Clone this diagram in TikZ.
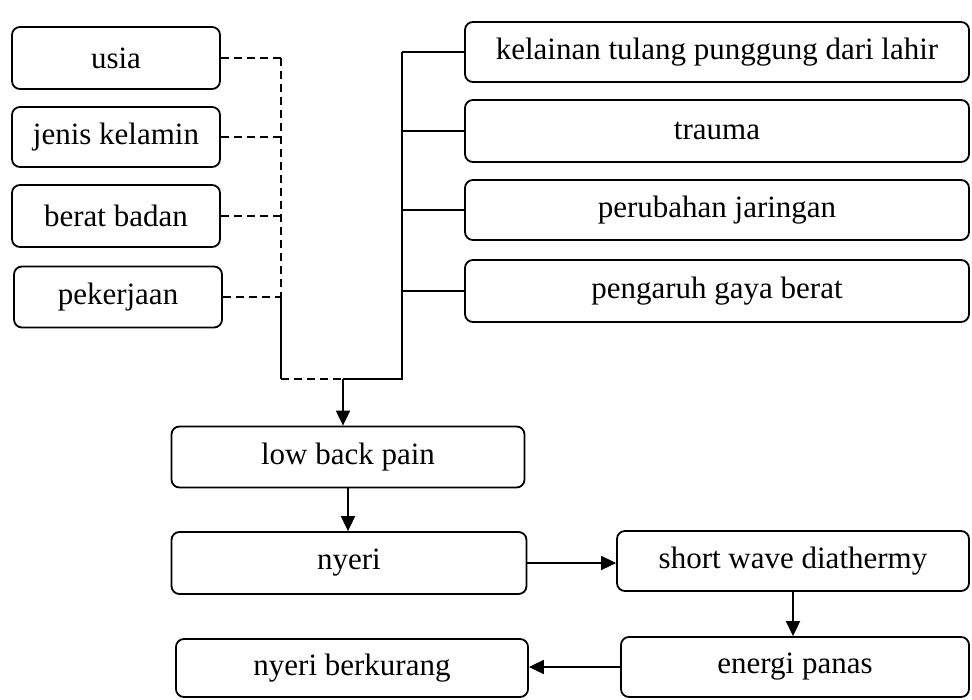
\documentclass[tikz,border=0pt]{standalone}
\usepackage{fontspec}
\setmainfont{Liberation Serif}
\usetikzlibrary{arrows.meta}
\tikzset{box/.style={draw,rounded corners=8pt,line width=1.8pt,inner sep=0pt,font=\fontsize{31}{36}\selectfont}}
\tikzset{link/.style={line width=1.8pt}}
\tikzset{faktor/.style={line width=1.8pt,dash pattern=on 8pt off 5pt}}
\tikzset{flow/.style={line width=1.8pt,-{Triangle[length=15pt,width=14pt]}}}

\begin{document}
\begin{tikzpicture}[x=1pt,y=-1pt]
    \useasboundingbox (0,0) rectangle (972,699);

    % left column
    \node[box,minimum width=208pt,minimum height=62pt] (usia) at (116,58) {usia};
    \node[box,minimum width=208pt,minimum height=60pt] (jenis) at (116,137) {jenis kelamin};
    \node[box,minimum width=208pt,minimum height=62pt] (berat) at (116,216) {berat badan};
    \node[box,minimum width=208pt,minimum height=61pt] (kerja) at (118,297) {pekerjaan};

    % right column
    \node[box,minimum width=504pt,minimum height=60pt] (kelainan) at (717,52) {kelainan tulang punggung dari lahir};
    \node[box,minimum width=504pt,minimum height=62pt] (trauma) at (717,131) {trauma};
    \node[box,minimum width=504pt,minimum height=60pt] (jaringan) at (717,210) {perubahan jaringan};
    \node[box,minimum width=504pt,minimum height=62pt] (gaya) at (717,291) {pengaruh gaya berat};

    % flow
    \node[box,minimum width=353pt,minimum height=61pt] (lbp) at (348,457) {low back pain};
    \node[box,minimum width=355pt,minimum height=62pt] (nyeri) at (349,563) {nyeri};
    \node[box,minimum width=352pt,minimum height=60pt] (swd) at (793,561) {short wave diathermy};
    \node[box,minimum width=348pt,minimum height=60pt] (panas) at (795,667) {energi panas};
    \node[box,minimum width=352pt,minimum height=58pt] (kurang) at (352,668) {nyeri berkurang};

    % junctions
    \coordinate (dtop) at (281,58);
    \coordinate (dmid) at (281,297);
    \coordinate (dbot) at (281,379);
    \coordinate (gabung) at (343,379);
    \coordinate (sbot) at (402,379);
    \coordinate (stop) at (402,52);

    % dashed factors
    \foreach \f in {usia,jenis,berat,kerja}
        \draw[faktor] (\f.east) -- (\f.east -| dtop);
    \draw[faktor] (dtop) -- (dmid);
    \draw[link] (dmid) -- (dbot);
    \draw[faktor] (dbot) -- (gabung);

    % solid causes
    \foreach \c in {kelainan,trauma,jaringan,gaya}
        \draw[link] (\c.west) -- (\c.west -| stop);
    \draw[link] (gabung) -- (sbot) -- (stop);

    % arrows
    \draw[flow] (gabung) -- (gabung |- lbp.north);
    \draw[flow] (lbp.south) -- (lbp.south |- nyeri.north);
    \draw[flow] (nyeri.east) -- (nyeri.east -| swd.west);
    \draw[flow] (swd.south) -- (swd.south |- panas.north);
    \draw[flow] (panas.west) -- (panas.west -| kurang.east);
\end{tikzpicture}
\end{document}
